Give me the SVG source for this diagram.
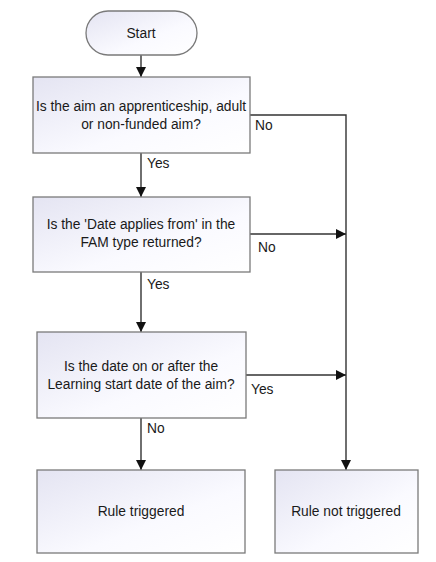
<svg xmlns="http://www.w3.org/2000/svg" width="436" height="562" viewBox="0 0 436 562">
<defs>
<linearGradient id="g" x1="0" y1="0" x2="1" y2="1">
<stop offset="0" stop-color="#e4e4f2"/>
<stop offset="0.6" stop-color="#fafaff"/>
<stop offset="1" stop-color="#ffffff"/>
</linearGradient>
<marker id="ah" markerWidth="12" markerHeight="12" refX="10" refY="5.5" orient="auto" markerUnits="userSpaceOnUse">
<path d="M0,0.5 L10,5.5 L0,10.5 z" fill="#111"/>
</marker>
<style>
.n{fill:url(#g);stroke:#7a7a7a;stroke-width:1.3}
.t{font-family:"Liberation Sans",Arial,sans-serif;font-size:13.8px;fill:#1a1a1a;text-anchor:middle}
.l{font-family:"Liberation Sans",Arial,sans-serif;font-size:13.8px;fill:#1a1a1a}
.c{fill:none;stroke:#333;stroke-width:1.4}
</style>
</defs>
<rect width="436" height="562" fill="#fff"/>
<g id="connectors">
<path class="c" d="M141,55 V77" marker-end="url(#ah)"/>
<path class="c" d="M141,153 V197" marker-end="url(#ah)"/>
<path class="c" d="M141,272 V332" marker-end="url(#ah)"/>
<path class="c" d="M141,418 V470" marker-end="url(#ah)"/>
<path class="c" d="M250,115 H346 V470" marker-end="url(#ah)"/>
<path class="c" d="M250,234 H346" marker-end="url(#ah)"/>
<path class="c" d="M246,375 H346" marker-end="url(#ah)"/>
<text class="l" x="255" y="130">No</text>
<text class="l" x="147" y="168">Yes</text>
<text class="l" x="258" y="252">No</text>
<text class="l" x="147" y="289">Yes</text>
<text class="l" x="251" y="394">Yes</text>
<text class="l" x="147" y="433">No</text>
</g>
<g id="start">
<rect class="n" x="86" y="11" width="111" height="44" rx="22" ry="22"/>
<text class="t" x="141" y="38">Start</text>
</g>
<g id="q1">
<rect class="n" x="33" y="77" width="217" height="76"/>
<text class="t" x="141" y="111">Is the aim an apprenticeship, adult</text>
<text class="t" x="141" y="129">or non-funded aim?</text>
</g>
<g id="q2">
<rect class="n" x="33" y="197" width="217" height="75"/>
<text class="t" x="141" y="229">Is the 'Date applies from' in the</text>
<text class="t" x="141" y="247">FAM type returned?</text>
</g>
<g id="q3">
<rect class="n" x="37" y="332" width="209" height="86"/>
<text class="t" x="141" y="371">Is the date on or after the</text>
<text class="t" x="141" y="389">Learning start date of the aim?</text>
</g>
<g id="triggered">
<rect class="n" x="37" y="470" width="208" height="83"/>
<text class="t" x="141" y="516">Rule triggered</text>
</g>
<g id="not-triggered">
<rect class="n" x="275" y="470" width="143" height="83"/>
<text class="t" x="346" y="516">Rule not triggered</text>
</g>
</svg>
